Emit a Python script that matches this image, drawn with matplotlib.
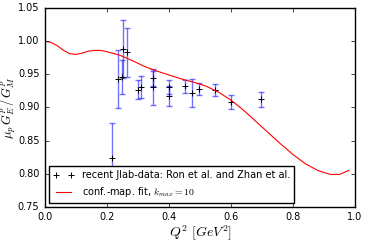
import numpy as np
import matplotlib
matplotlib.use("Agg")
import matplotlib.pyplot as plt

plt.style.use("classic")
plt.rcParams["mathtext.fontset"] = "cm"

# Jlab data (Ron et al., Zhan et al.)
q2 = [0.215, 0.235, 0.248, 0.252, 0.265, 0.300, 0.309, 0.347, 0.347,
      0.401, 0.401, 0.452, 0.475, 0.496, 0.547, 0.599, 0.696]
ratio = [0.824, 0.943, 0.946, 0.988, 0.983, 0.927, 0.931, 0.944, 0.931,
         0.931, 0.917, 0.932, 0.922, 0.928, 0.926, 0.908, 0.912]
err = [0.052, 0.044, 0.025, 0.044, 0.037, 0.014, 0.017, 0.011, 0.027,
       0.011, 0.015, 0.010, 0.021, 0.009, 0.009, 0.011, 0.012]

# conformal-map fit
fit_q2 = [0.0, 0.02, 0.04, 0.06, 0.08, 0.10, 0.12, 0.14, 0.16, 0.18, 0.20,
          0.24, 0.28, 0.32, 0.36, 0.40, 0.44, 0.48, 0.52, 0.56, 0.60, 0.64,
          0.68, 0.72, 0.76, 0.80, 0.84, 0.88, 0.92, 0.95, 0.98]
fit_ratio = [1.000, 0.998, 0.993, 0.986, 0.981, 0.980, 0.982, 0.985, 0.986,
             0.986, 0.984, 0.979, 0.971, 0.962, 0.955, 0.949, 0.943, 0.938,
             0.932, 0.923, 0.911, 0.896, 0.879, 0.862, 0.845, 0.829, 0.815,
             0.805, 0.799, 0.799, 0.805]

fig = plt.figure(figsize=(3.66, 2.42), dpi=100)
ax = fig.add_axes([0.123, 0.145, 0.847, 0.822])

ax.errorbar(q2, ratio, yerr=err, fmt="none", ecolor="b", alpha=0.55,
            elinewidth=1, capsize=2.5, capthick=1)
ax.plot(q2, ratio, "k+", ms=4.5, mew=0.7,
        label="recent Jlab-data: Ron et al. and Zhan et al.")
ax.plot(fit_q2, fit_ratio, "r-", lw=0.8,
        label="conf.-map. fit, $k_{max}=10$")

ax.set_xlim(0, 1.0)
ax.set_ylim(0.75, 1.05)
ax.set_xticks(np.arange(0, 1.01, 0.2))
ax.set_yticks(np.arange(0.75, 1.051, 0.05))
ax.tick_params(labelsize=7, length=3)
ax.set_xlabel("$Q^2\\ [GeV^2]$", fontsize=10, labelpad=1)
ax.set_ylabel("$\\mu_p\\, G_E^p\\, /\\, G_M^p$", fontsize=9, labelpad=0)

ax.legend(loc="lower left", numpoints=2, fontsize=7, borderaxespad=0.4,
          handlelength=2.2, labelspacing=0.5)

fig.savefig("out.png", dpi=100)
